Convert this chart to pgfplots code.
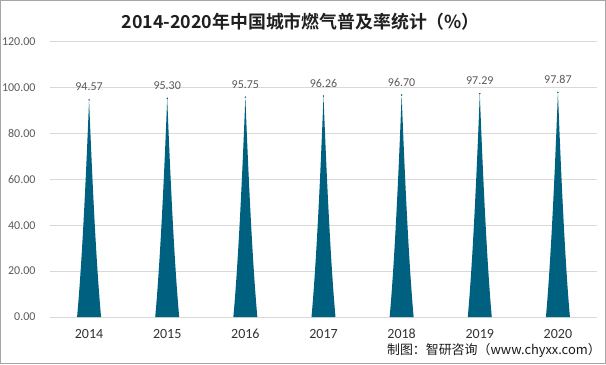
\documentclass[border=0pt]{standalone}
\usepackage{fontspec}
\setmainfont{Carlito}
\newfontfamily\cjk[BoldFont={Noto Sans CJK SC Bold}]{Noto Sans CJK SC}
\usepackage{pgfplots}
\usepackage{pgfplotstable}
\pgfplotsset{compat=1.18}
\definecolor{spikec}{HTML}{00607F}
\definecolor{gridc}{HTML}{D9D9D9}
\definecolor{tickc}{HTML}{595959}
\definecolor{yearc}{HTML}{333333}
\definecolor{framec}{HTML}{A6A6A6}
\newdimen\spH \newdimen\spA \newdimen\spB
\pgfplotstableread{
x y
0 94.57
1 95.30
2 95.75
3 96.26
4 96.70
5 97.29
6 97.87
}\rates
\begin{document}
\begin{tikzpicture}
\path[use as bounding box] (0,0) rectangle (454.5pt,273pt);
\draw[framec, line width=0.75pt] (0.375pt,0.375pt) rectangle (454.125pt,272.625pt);
\begin{axis}[
  at={(37.5pt,35.25pt)}, anchor=south west, scale only axis,
  width=410.25pt, height=206.6pt,
  xmin=-0.5, xmax=6.5, ymin=0, ymax=120,
  xtick={0,1,2,3,4,5,6},
  xticklabels={2014,2015,2016,2017,2018,2019,2020},
  ytick={0,20,40,60,80,100,120},
  yticklabel={\pgfmathprintnumber[fixed,zerofill,precision=2]{\tick}},
  ymajorgrids, grid style={color=gridc, line width=0.75pt},
  axis line style={draw=none}, major tick length=0pt,
  /pgf/number format/assume math mode=true,
  yticklabel style={anchor=east, inner sep=0pt, xshift=-10.7pt, font=\fontsize{9}{10}\selectfont, color=tickc},
  xticklabel style={anchor=base, inner sep=0pt, yshift=-16pt, font=\fontsize{10.5}{12}\selectfont, color=yearc},
  clip=false,
]
% spikes
\addplot[scatter, only marks, mark=*, mark size=0.2pt,
  point meta={\thisrow{y}},
  visualization depends on={\thisrow{y} \as \rawy},
  scatter/@pre marker code/.code={%
    \pgfmathfloatparsenumber{\rawy}%
    \pgfmathfloattofixed{\pgfmathresult}%
    \edef\ry{\pgfmathresult}%
    \spH=\ry pt\relax
    \spH=1.72167\spH\relax
    \spA=0.8\spH\relax
    \spB=0.467\spH\relax
    \pgfscope
    \pgfsetfillcolor{spikec}%
    \pgfpathmoveto{\pgfqpoint{-9pt}{-\spH}}%
    \pgfpathcurveto{\pgfqpoint{-6pt}{-\spA}}{\pgfqpoint{-3pt}{-\spB}}{\pgfqpoint{0pt}{0pt}}%
    \pgfpathcurveto{\pgfqpoint{3pt}{-\spB}}{\pgfqpoint{6pt}{-\spA}}{\pgfqpoint{9pt}{-\spH}}%
    \pgfpathclose
    \pgfusepath{fill}%
    \endpgfscope
    \pgfscope
  },
  scatter/@post marker code/.code={\endpgfscope},
  mark options={draw=spikec, fill=spikec},
] table[x=x, y=y] {\rates};
% value labels
\addplot[only marks, mark=*, mark size=0.2pt, mark options={draw=spikec, fill=spikec},
  point meta={\thisrow{y}},
  visualization depends on={\thisrow{y} \as \rawy},
  nodes near coords={\pgfmathprintnumber[fixed,zerofill,precision=2]{\rawy}},
  every node near coord/.append style={anchor=center, yshift=9.75pt, font=\fontsize{9}{10}\selectfont, color=tickc},
] table[x=x, y=y] {\rates};
\end{axis}
\node[font={\cjk\bfseries\fontsize{13.4}{15}\selectfont}, color=black!88, anchor=center] at (225.5pt,256.5pt) {2014-2020年中国城市燃气普及率统计（\%）};
\node[font={\cjk\fontsize{9.7}{12}\selectfont}, color=black!90, anchor=east, inner sep=0pt] at (450.75pt,10.5pt) {制图：智研咨询（www.chyxx.com）};
\end{tikzpicture}
\end{document}
